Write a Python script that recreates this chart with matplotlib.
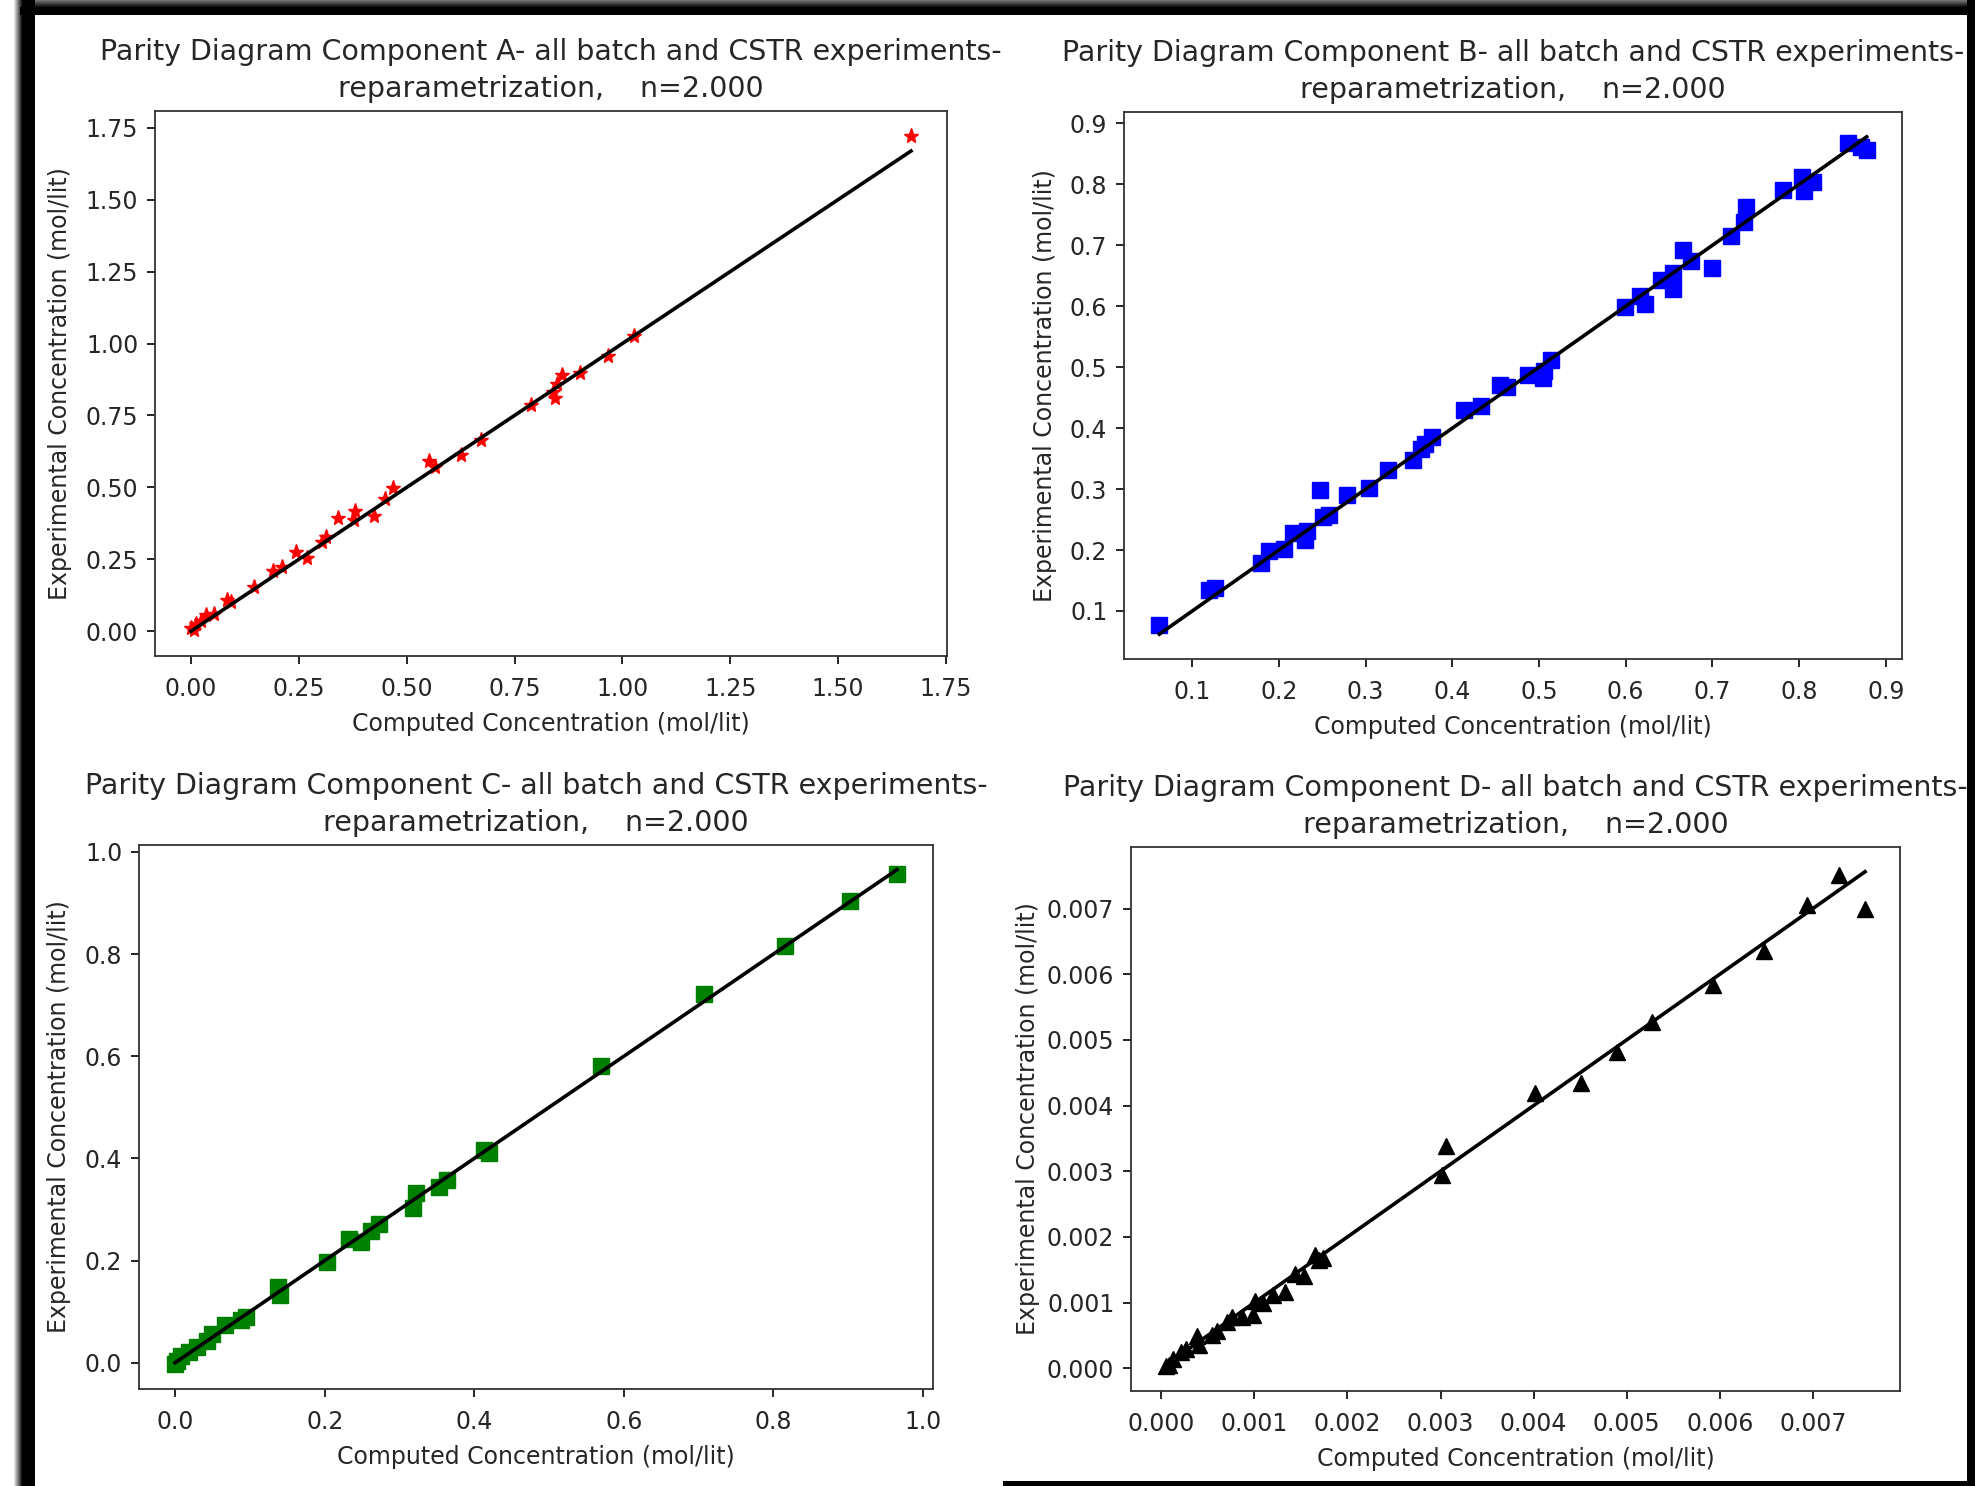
import numpy as np
import matplotlib
matplotlib.use("Agg")
import matplotlib.pyplot as plt
from matplotlib.patches import Rectangle

# ---- Component A (computed vs experimental, mol/lit) ----
a_calc = [0.000, 0.006, 0.012, 0.024, 0.035, 0.053, 0.083, 0.092, 0.147, 0.191,
          0.210, 0.244, 0.268, 0.304, 0.313, 0.340, 0.377, 0.380, 0.425, 0.450,
          0.469, 0.552, 0.566, 0.627, 0.672, 0.788, 0.840, 0.843, 0.849, 0.861,
          0.902, 0.967, 1.026, 1.669]
a_exp = [0.012, 0.006, 0.025, 0.037, 0.055, 0.061, 0.108, 0.101, 0.154, 0.209,
         0.224, 0.276, 0.256, 0.310, 0.326, 0.393, 0.387, 0.418, 0.399, 0.461,
         0.498, 0.590, 0.571, 0.614, 0.663, 0.786, 0.830, 0.811, 0.860, 0.891,
         0.897, 0.958, 1.026, 1.722]

# ---- Component B ----
b_calc = [0.062, 0.119, 0.126, 0.179, 0.189, 0.206, 0.216, 0.230, 0.232, 0.247,
          0.251, 0.258, 0.279, 0.304, 0.326, 0.355, 0.364, 0.369, 0.377, 0.414,
          0.433, 0.455, 0.463, 0.487, 0.505, 0.506, 0.514, 0.599, 0.617, 0.622,
          0.641, 0.655, 0.655, 0.666, 0.675, 0.700, 0.722, 0.737, 0.739, 0.781,
          0.804, 0.806, 0.816, 0.857, 0.872, 0.878]
b_exp = [0.077, 0.135, 0.138, 0.178, 0.199, 0.202, 0.228, 0.217, 0.231, 0.299,
         0.255, 0.258, 0.290, 0.301, 0.331, 0.348, 0.366, 0.374, 0.386, 0.430,
         0.436, 0.471, 0.468, 0.488, 0.482, 0.494, 0.512, 0.599, 0.617, 0.603,
         0.643, 0.655, 0.628, 0.693, 0.675, 0.663, 0.716, 0.739, 0.763, 0.790,
         0.812, 0.789, 0.804, 0.868, 0.862, 0.856]

# ---- Component C ----
c_calc = [0.000, 0.003, 0.008, 0.018, 0.029, 0.043, 0.050, 0.067, 0.088, 0.095,
          0.137, 0.140, 0.203, 0.233, 0.248, 0.262, 0.273, 0.318, 0.322, 0.353,
          0.364, 0.413, 0.420, 0.569, 0.707, 0.816, 0.902, 0.965]
c_exp = [-0.003, 0.003, 0.014, 0.021, 0.031, 0.042, 0.056, 0.073, 0.083, 0.090,
         0.149, 0.132, 0.198, 0.243, 0.236, 0.257, 0.271, 0.302, 0.333, 0.344,
         0.358, 0.417, 0.410, 0.580, 0.721, 0.816, 0.903, 0.957]

# ---- Component D ----
d_calc = [0.00005, 0.00008, 0.00013, 0.00021, 0.00027, 0.00038, 0.00040, 0.00054,
          0.00060, 0.00071, 0.00076, 0.00087, 0.00098, 0.00101, 0.00109, 0.00120,
          0.00133, 0.00144, 0.00153, 0.00165, 0.00169, 0.00174, 0.00302, 0.00306,
          0.00401, 0.00451, 0.00490, 0.00527, 0.00593, 0.00647, 0.00694, 0.00728,
          0.00756]
d_exp = [0.00003, 0.00005, 0.00014, 0.00024, 0.00030, 0.00049, 0.00035, 0.00051,
         0.00057, 0.00070, 0.00078, 0.00078, 0.00081, 0.00103, 0.00100, 0.00111,
         0.00116, 0.00143, 0.00141, 0.00173, 0.00165, 0.00168, 0.00294, 0.00338,
         0.00419, 0.00435, 0.00481, 0.00527, 0.00584, 0.00635, 0.00705, 0.00751,
         0.00700]

components = ["A", "B", "C", "D"]
calc_sets = [a_calc, b_calc, c_calc, d_calc]
exp_sets = [a_exp, b_exp, c_exp, d_exp]
marker_styles = ["r*", "bs", "gs", "k^"]
marker_sizes = [11, 11, 11, 11]
n_value = 2.000

W, H = 1975, 1486
fig = plt.figure(figsize=(W / 100, H / 100), dpi=100)
fig.patch.set_facecolor("white")

# Dark window frame around the notebook captures
bg = fig.add_axes([0, 0, 1, 1], zorder=-5)
bg.set_xlim(0, W)
bg.set_ylim(H, 0)
bg.axis("off")
grad_v = np.linspace(0.45, 0.0, 8).reshape(-1, 1)
bg.imshow(grad_v, cmap="gray", vmin=0, vmax=1, extent=(20, W, 8, 0), aspect="auto")
bg.add_patch(Rectangle((20, 7), W - 20, 8, color="black", lw=0))
grad_h = np.linspace(1.0, 0.0, 10).reshape(1, -1)
bg.imshow(grad_h, cmap="gray", vmin=0, vmax=1, extent=(13, 23, H, 0), aspect="auto")
bg.add_patch(Rectangle((23, 0), 12, H, color="black", lw=0))
bg.add_patch(Rectangle((W - 8, 0), 8, H, color="black", lw=0))
bg.add_patch(Rectangle((1003, H - 5), W - 1003, 5, color="black", lw=0))

# Axes rectangles in pixel units: left, top, right, bottom
boxes = [(155, 111, 947, 656), (1124, 112, 1902, 659),
         (139, 845, 933, 1389), (1131, 847, 1900, 1391)]

ylabel_x = [72, 1057, 71, 1040]
text_col = "#262626"
fs = 17

for comp, xc, ye, sty, ms, (l, t, r, b), ylx in zip(
        components, calc_sets, exp_sets, marker_styles, marker_sizes, boxes, ylabel_x):
    ax = fig.add_axes([l / W, 1 - b / H, (r - l) / W, (b - t) / H])
    xc = np.asarray(xc)
    ye = np.asarray(ye)
    ax.plot(xc, ye, sty, markersize=ms, zorder=2)
    lo, hi = xc.min(), xc.max()
    ax.plot([lo, hi], [lo, hi], "k-", linewidth=2.6, zorder=3)
    ax.set_title(f"Parity Diagram Component {comp}- all batch and CSTR experiments-\n"
                 f"reparametrization,    n={n_value:.3f}",
                 fontsize=20.5, color=text_col, pad=10, linespacing=1.4)
    ax.set_xlabel("Computed Concentration (mol/lit)", fontsize=fs, color=text_col, labelpad=8)
    ax.set_ylabel("Experimental Concentration (mol/lit)", fontsize=fs, color=text_col)
    ax.yaxis.set_label_coords((ylx - l) / (r - l), 0.5)
    ax.tick_params(labelsize=fs, labelcolor=text_col, length=6, width=1.2)
    ax.tick_params(axis="x", pad=9)
    ax.tick_params(axis="y", pad=6)
    for sp in ax.spines.values():
        sp.set_linewidth(1.3)
        sp.set_color("#333333")

fig.savefig("out.png", dpi=100, facecolor="white")
